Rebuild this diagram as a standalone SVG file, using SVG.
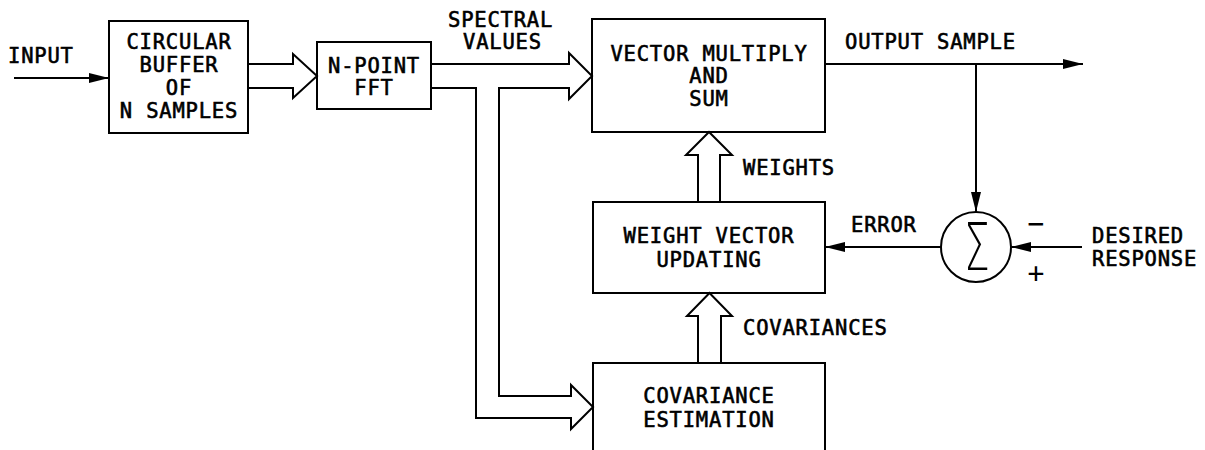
<svg xmlns="http://www.w3.org/2000/svg" width="1205" height="450" viewBox="0 0 1205 450">
<defs>
<style>
.box{fill:none;stroke:#000;stroke-width:2}
.ln{fill:none;stroke:#000;stroke-width:2}
.wide{fill:none;stroke:#000;stroke-width:2;stroke-linejoin:miter}
text{font-family:"DejaVu Sans Mono","Liberation Mono",monospace;font-size:20.5px;letter-spacing:0.8px;fill:#000;stroke:#000;stroke-width:0.6px}
.c{text-anchor:middle}
.sign{font-size:28px;letter-spacing:0;stroke:none}
</style>
<marker id="ah" markerUnits="userSpaceOnUse" viewBox="0 0 20 10" refX="20" refY="5" markerWidth="20" markerHeight="10" orient="auto">
<path d="M0,0 L20,5 L0,10 Z" fill="#000"/>
</marker>
</defs>
<rect width="1205" height="450" fill="#fff"/>

<g id="input-label"><text x="8" y="63">INPUT</text></g>

<g id="buffer">
<rect class="box" x="109" y="21" width="139" height="112"/>
<text class="c" x="179" y="49">CIRCULAR</text>
<text class="c" x="179" y="72">BUFFER</text>
<text class="c" x="179" y="95">OF</text>
<text class="c" x="179" y="118">N SAMPLES</text>
</g>

<g id="fft">
<rect class="box" x="317" y="42" width="114" height="67"/>
<text class="c" x="374" y="73">N-POINT</text>
<text class="c" x="374" y="95">FFT</text>
</g>

<g id="vector-multiply">
<rect class="box" x="592" y="19" width="233" height="113"/>
<text class="c" x="709" y="61">VECTOR MULTIPLY</text>
<text class="c" x="709" y="83">AND</text>
<text class="c" x="709" y="106">SUM</text>
</g>

<g id="weight-update">
<rect class="box" x="593" y="202" width="232" height="91"/>
<text class="c" x="709" y="243">WEIGHT VECTOR</text>
<text class="c" x="709" y="267">UPDATING</text>
</g>

<g id="covariance">
<path class="box" d="M593,452 V363 H825 V452"/>
<text class="c" x="709" y="403">COVARIANCE</text>
<text class="c" x="709" y="427">ESTIMATION</text>
</g>

<g id="summer">
<circle class="box" cx="976" cy="247" r="35"/>
<text transform="translate(977,270) scale(0.62,1)" style="font-family:'DejaVu Sans',sans-serif;font-size:66px;font-weight:200;letter-spacing:0;stroke:none" text-anchor="middle">Σ</text>
<text x="1036" y="233" class="c sign">−</text>
<text x="1036" y="283" class="c sign">+</text>
</g>

<g id="connectors">
<line class="ln" x1="14" y1="78" x2="109" y2="78" marker-end="url(#ah)"/>
<path class="wide" d="M248,64 H293 V54 L317,76 L293,98 V88 H248"/>
<path class="wide" d="M431,64 H569 V53 L592,76 L569,99 V88 H499 V396 H571 V385 L593,407 L571,429 V418 H476 V88 H431"/>
<path class="wide" d="M698,202 V155 H686 L709,132 L732,155 H720 V202"/>
<path class="wide" d="M698,363 V316 H687 L709.5,293 L732,316 H721 V363"/>
<line class="ln" x1="825" y1="64" x2="1083" y2="64" marker-end="url(#ah)"/>
<line class="ln" x1="976" y1="64" x2="976" y2="212" marker-end="url(#ah)"/>
<line class="ln" x1="941" y1="247" x2="825" y2="247" marker-end="url(#ah)"/>
<line class="ln" x1="1082" y1="247" x2="1011" y2="247" marker-end="url(#ah)"/>
</g>

<g id="labels">
<text x="448" y="27">SPECTRAL</text>
<text x="463" y="49">VALUES</text>
<text x="845" y="49">OUTPUT SAMPLE</text>
<text x="743" y="175">WEIGHTS</text>
<text x="851" y="232">ERROR</text>
<text x="743" y="335">COVARIANCES</text>
<text x="1092" y="243">DESIRED</text>
<text x="1092" y="266">RESPONSE</text>
</g>
</svg>
